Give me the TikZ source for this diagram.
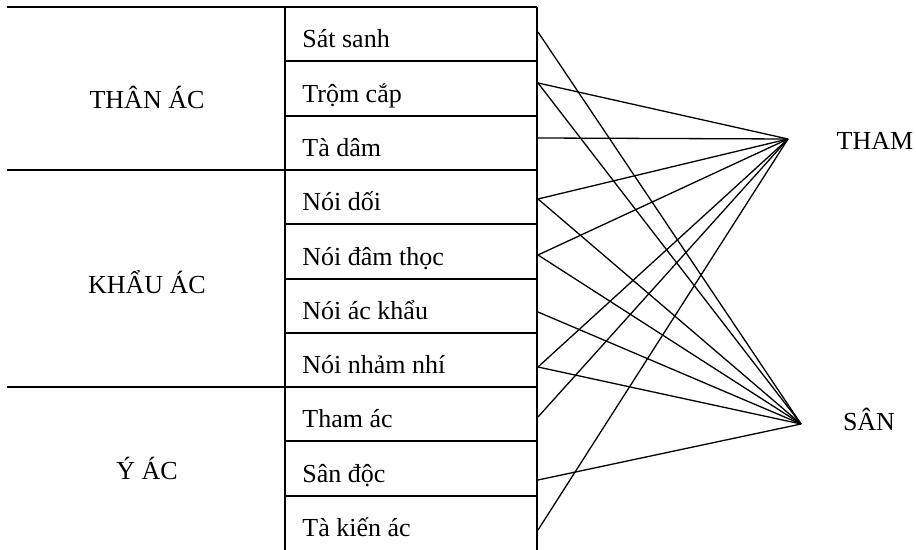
\documentclass[tikz,border=0pt]{standalone}
\usepackage{fontspec}
\setmainfont{Liberation Serif}
\tikzstyle{every node}=[inner sep=0pt,font=\fontsize{13}{15}\selectfont]
\tikzstyle{hang}=[anchor=base west]
\tikzstyle{nhom}=[anchor=base]
\tikzstyle{khung}=[line width=1pt]
\tikzstyle{noi}=[line width=0.65pt]

\begin{document}
\begin{tikzpicture}[x=0.5pt,y=-0.5pt]
\useasboundingbox (0,0) rectangle (916,550);
% khung bang
\draw[khung] (7,7)--(537,7);
\draw[khung] (7,170)--(537,170);
\draw[khung] (7,387)--(537,387);
\draw[khung] (285,7)--(285,550);
\draw[khung] (537,7)--(537,550);
\draw[khung] (285,61.3)--(537,61.3);
\draw[khung] (285,115.6)--(537,115.6);
\draw[khung] (285,224.3)--(537,224.3);
\draw[khung] (285,278.6)--(537,278.6);
\draw[khung] (285,333)--(537,333);
\draw[khung] (285,441.5)--(537,441.5);
\draw[khung] (285,496)--(537,496);
% nhom
\node[nhom] (than) at (147,108.5) {THÂN ÁC};
\node[nhom] (khau) at (147,294) {KHẨU ÁC};
\node[nhom] (y) at (147,480) {Ý ÁC};
% hang
\node[hang] (r1) at (302,48) {Sát sanh};
\node[hang] (r2) at (302,102.3) {Trộm cắp};
\node[hang] (r3) at (302,156.6) {Tà dâm};
\node[hang] (r4) at (302,211) {Nói dối};
\node[hang] (r5) at (302,265.3) {Nói đâm thọc};
\node[hang] (r6) at (302,319.6) {Nói ác khẩu};
\node[hang] (r7) at (302,374) {Nói nhảm nhí};
\node[hang] (r8) at (302,428) {Tham ác};
\node[hang] (r9) at (302,482.5) {Sân độc};
\node[hang] (r10) at (302,537) {Tà kiến ác};
% dau noi
\coordinate (s1) at (538,32);
\coordinate (s2) at (538,83);
\coordinate (s3) at (538,138);
\coordinate (s4) at (538,199);
\coordinate (s5) at (538,255);
\coordinate (s6) at (538,312);
\coordinate (s7) at (538,367);
\coordinate (s8) at (538,417);
\coordinate (s9) at (538,480);
\coordinate (s10) at (538,530);
\coordinate (tham) at (788,139);
\coordinate (san) at (801,424);
\node[nhom] (thamlbl) at (875,150) {THAM};
\node[nhom] (sanlbl) at (869,431) {SÂN};
% tham
\draw[noi] (s2)--(tham);
\draw[noi] (s3)--(tham);
\draw[noi] (s4)--(tham);
\draw[noi] (s5)--(tham);
\draw[noi] (s7)--(tham);
\draw[noi] (s8)--(tham);
\draw[noi] (s10)--(tham);
% san
\draw[noi] (s1)--(san);
\draw[noi] (s2)--(san);
\draw[noi] (s4)--(san);
\draw[noi] (s5)--(san);
\draw[noi] (s6)--(san);
\draw[noi] (s7)--(san);
\draw[noi] (s9)--(san);
\end{tikzpicture}
\end{document}
